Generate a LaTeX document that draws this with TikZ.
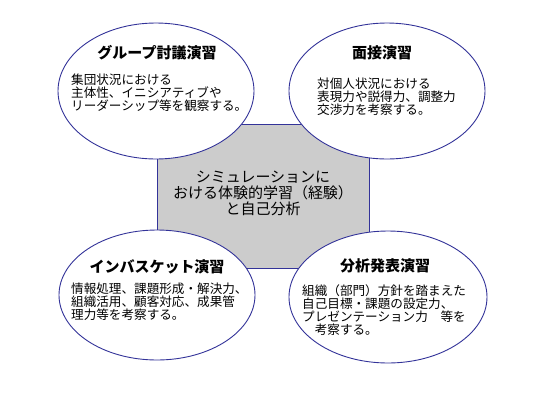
\documentclass[tikz,border=0pt]{standalone}
\usepackage{fontspec}
\setmainfont{Noto Sans CJK JP}
\usetikzlibrary{shapes.geometric}
\definecolor{ringblue}{RGB}{51,51,153}
\definecolor{simgray}{RGB}{204,204,204}

\begin{document}
\begin{tikzpicture}[x=1pt, y=-1pt,
    exoval/.style={ellipse, draw=ringblue, line width=0.9pt, fill=white, inner sep=0pt},
    headtxt/.style={font=\fontsize{15}{18}\selectfont\bfseries, inner sep=0pt},
    bodytxt/.style={font=\fontsize{12.6}{13}\selectfont, align=left, anchor=west, inner sep=0pt}]
    \useasboundingbox (0,0) rectangle (550,400);

    % Central block (drawn first, the ovals cover its corners)
    \node[draw=ringblue, line width=0.9pt, fill=simgray, minimum width=212pt, minimum height=144pt, inner sep=0pt] (sim) at (263,196) {};

    % Four exercises
    \node[exoval, minimum width=196pt, minimum height=136pt] (grp) at (156,91) {};
    \node[exoval, minimum width=196pt, minimum height=136pt] (mensetsu) at (387,91) {};
    \node[exoval, minimum width=196pt, minimum height=130pt] (inbask) at (157,295) {};
    \node[exoval, minimum width=198pt, minimum height=132pt] (bunseki) at (388,297) {};

    % Centre text
    \node[font=\fontsize{15}{16}\selectfont, align=center, inner sep=0pt] (simtxt) at (263,193) {シミュレーションに\\おける体験的学習（経験）\\と自己分析};

    % Group discussion
    \node[headtxt] (grphead) at (157,53) {グループ討議演習};
    \node[bodytxt] (grpbody) at (71,93) {集団状況における\\主体性、イニシアティブや\\リーダーシップ等を観察する。};

    % Interview
    \node[headtxt] (menhead) at (382,53) {面接演習};
    \node[bodytxt] (menbody) at (317,97) {対個人状況における\\表現力や説得力、調整力\\交渉力を考察する。};

    % In-basket
    \node[headtxt] (inbhead) at (157,267) {インバスケット演習};
    \node[bodytxt] (inbbody) at (71,302) {情報処理、課題形成・解決力、\\組織活用、顧客対応、成果管\\理力等を考察する。};

    % Analysis and presentation
    \node[headtxt] (bunhead) at (385,266) {分析発表演習};
    \node[bodytxt] (bunbody) at (302,310) {組織（部門）方針を踏まえた\\自己目標・課題の設定力、\\プレゼンテーション力　等を\\\hspace{1em}考察する。};
\end{tikzpicture}
\end{document}
